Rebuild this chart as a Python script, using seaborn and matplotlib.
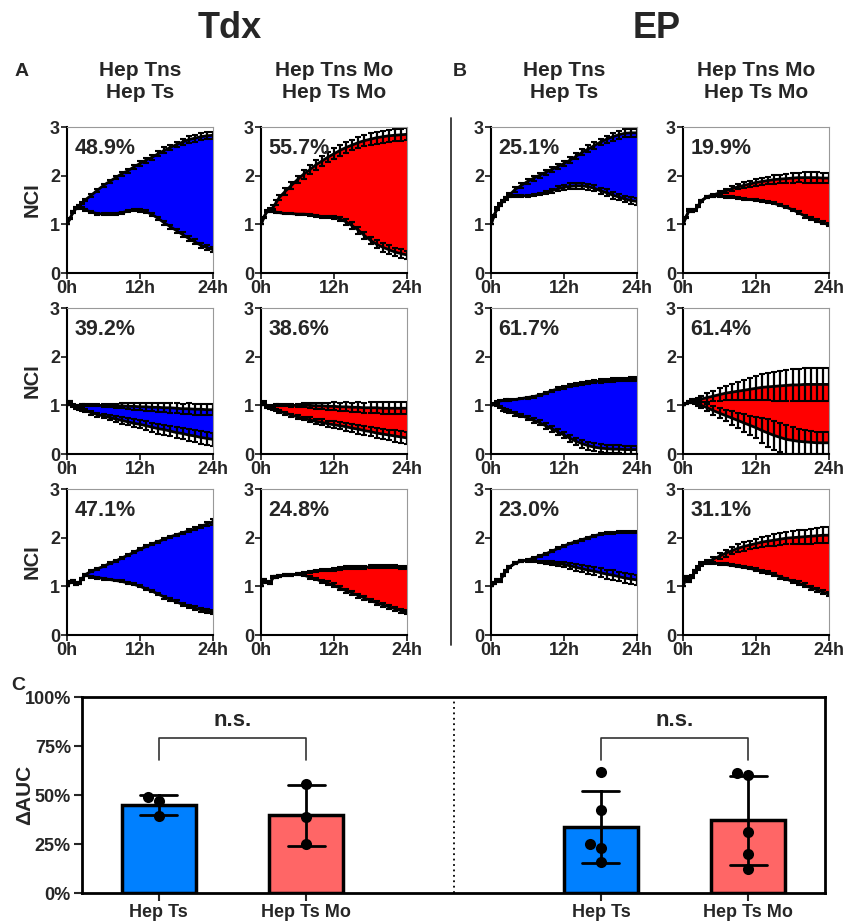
import pandas as pd
import matplotlib
matplotlib.use('Agg')
import matplotlib.pyplot as plt
from matplotlib.lines import Line2D
import seaborn as sns

# time points (h)
hours = [0, 0.5, 1, 1.5, 2, 2.5, 3, 4, 5, 6, 7, 8, 9, 10, 11, 12, 13, 14,
         15, 16, 17, 18, 19, 20, 21, 22, 23, 24]

# ---- Tdx, donor 1 ----
tdx1_ts_up = [1.00, 1.12, 1.25, 1.33, 1.37, 1.44, 1.50,
              1.60, 1.70, 1.80, 1.88, 1.96, 2.04, 2.10, 2.18, 2.25, 2.32, 2.38, 2.45, 2.52, 2.58, 2.64, 2.69, 2.74, 2.77, 2.80, 2.82, 2.83]
tdx1_ts_up_err = [0, 0.01, 0.02, 0.02, 0.02, 0.02, 0.03,
                  0.03, 0.03, 0.03, 0.03, 0.03, 0.04, 0.04, 0.04, 0.05, 0.05, 0.05, 0.05, 0.06, 0.06, 0.06, 0.06, 0.07, 0.07, 0.07, 0.07, 0.07]
tdx1_ts_lo = [1.00, 1.12, 1.25, 1.33, 1.37, 1.33, 1.30,
              1.25, 1.22, 1.21, 1.21, 1.22, 1.24, 1.27, 1.29, 1.29, 1.26, 1.20, 1.12, 1.03, 0.95, 0.87, 0.79, 0.71, 0.64, 0.57, 0.52, 0.48]
tdx1_ts_lo_err = [0, 0.01, 0.02, 0.02, 0.02, 0.02, 0.02,
                  0.02, 0.02, 0.02, 0.02, 0.02, 0.02, 0.02, 0.02, 0.03, 0.03, 0.03, 0.04, 0.04, 0.04, 0.04, 0.05, 0.05, 0.05, 0.05, 0.05, 0.05]
tdx1_mo_up = [1.00, 1.15, 1.27, 1.30, 1.35, 1.45, 1.55,
              1.68, 1.80, 1.92, 2.03, 2.12, 2.22, 2.30, 2.38, 2.45, 2.52, 2.58, 2.63, 2.68, 2.72, 2.75, 2.78, 2.80, 2.82, 2.83, 2.84, 2.85]
tdx1_mo_up_err = [0, 0.01, 0.02, 0.03, 0.04, 0.05, 0.06,
                  0.07, 0.08, 0.08, 0.09, 0.09, 0.10, 0.10, 0.10, 0.11, 0.11, 0.11, 0.11, 0.12, 0.12, 0.12, 0.12, 0.12, 0.12, 0.12, 0.12, 0.12]
tdx1_mo_lo = [1.00, 1.15, 1.27, 1.27, 1.26, 1.25, 1.24,
              1.22, 1.22, 1.21, 1.21, 1.20, 1.18, 1.16, 1.15, 1.14, 1.11, 1.05, 0.97, 0.88, 0.77, 0.67, 0.59, 0.53, 0.48, 0.43, 0.40, 0.37]
tdx1_mo_lo_err = [0, 0.01, 0.01, 0.01, 0.01, 0.01, 0.01,
                  0.01, 0.01, 0.01, 0.01, 0.02, 0.02, 0.02, 0.03, 0.04, 0.05, 0.06, 0.07, 0.07, 0.08, 0.08, 0.08, 0.09, 0.09, 0.09, 0.09, 0.09]

# ---- EP, donor 1 ----
ep1_ts_up = [1.00, 1.18, 1.32, 1.40, 1.48, 1.54, 1.60,
             1.72, 1.80, 1.88, 1.95, 2.01, 2.07, 2.13, 2.19, 2.25, 2.32, 2.40, 2.48, 2.55, 2.62, 2.69, 2.75, 2.80, 2.84, 2.87, 2.88, 2.88]
ep1_ts_up_err = [0, 0.02, 0.03, 0.03, 0.03, 0.03, 0.04,
                 0.05, 0.05, 0.05, 0.05, 0.05, 0.05, 0.05, 0.05, 0.06, 0.06, 0.06, 0.06, 0.07, 0.07, 0.07, 0.07, 0.08, 0.08, 0.08, 0.08, 0.08]
ep1_ts_lo = [1.00, 1.18, 1.32, 1.40, 1.48, 1.54, 1.59,
             1.58, 1.58, 1.59, 1.60, 1.62, 1.65, 1.69, 1.73, 1.76, 1.78, 1.79, 1.79, 1.77, 1.74, 1.69, 1.65, 1.60, 1.56, 1.52, 1.49, 1.47]
ep1_ts_lo_err = [0, 0.01, 0.02, 0.02, 0.02, 0.02, 0.02,
                 0.02, 0.02, 0.02, 0.02, 0.02, 0.03, 0.04, 0.05, 0.05, 0.06, 0.06, 0.06, 0.06, 0.06, 0.06, 0.07, 0.07, 0.07, 0.07, 0.07, 0.07]
ep1_mo_up = [1.00, 1.15, 1.29, 1.27, 1.29, 1.38, 1.48,
             1.57, 1.60, 1.65, 1.69, 1.73, 1.77, 1.80, 1.83, 1.86, 1.88, 1.90, 1.92, 1.93, 1.94, 1.95, 1.96, 1.96, 1.96, 1.96, 1.95, 1.95]
ep1_mo_up_err = [0, 0.01, 0.02, 0.02, 0.02, 0.02, 0.02,
                 0.02, 0.03, 0.03, 0.04, 0.05, 0.05, 0.06, 0.06, 0.07, 0.08, 0.08, 0.09, 0.09, 0.10, 0.10, 0.10, 0.11, 0.11, 0.11, 0.11, 0.11]
ep1_mo_lo = [1.00, 1.15, 1.29, 1.27, 1.29, 1.38, 1.48,
             1.57, 1.59, 1.58, 1.57, 1.56, 1.54, 1.52, 1.51, 1.50, 1.48, 1.46, 1.43, 1.39, 1.35, 1.30, 1.24, 1.17, 1.12, 1.07, 1.03, 0.99]
ep1_mo_lo_err = [0, 0.01, 0.02, 0.02, 0.02, 0.02, 0.02,
                 0.02, 0.02, 0.02, 0.02, 0.02, 0.02, 0.02, 0.02, 0.02, 0.02, 0.02, 0.02, 0.02, 0.02, 0.02, 0.03, 0.03, 0.03, 0.03, 0.03, 0.03]

# ---- Tdx, donor 2 ----
tdx2_ts_up = [1.00, 1.06, 1.00, 0.98, 0.99, 1.00, 1.00,
              1.00, 1.00, 1.00, 1.00, 0.99, 0.99, 0.98, 0.98, 0.97, 0.97, 0.96, 0.96, 0.95, 0.95, 0.94, 0.93, 0.93, 0.92, 0.92, 0.91, 0.91]
tdx2_ts_up_err = [0, 0.02, 0.02, 0.02, 0.02, 0.02, 0.02,
                  0.02, 0.02, 0.03, 0.03, 0.04, 0.05, 0.06, 0.07, 0.07, 0.08, 0.08, 0.09, 0.09, 0.10, 0.10, 0.10, 0.11, 0.11, 0.11, 0.11, 0.11]
tdx2_ts_lo = [1.00, 1.06, 0.98, 0.95, 0.93, 0.91, 0.89,
              0.85, 0.81, 0.78, 0.75, 0.72, 0.69, 0.66, 0.63, 0.61, 0.58, 0.55, 0.52, 0.50, 0.47, 0.44, 0.42, 0.39, 0.37, 0.34, 0.32, 0.30]
tdx2_ts_lo_err = [0, 0.02, 0.02, 0.02, 0.03, 0.03, 0.03,
                  0.04, 0.04, 0.05, 0.05, 0.06, 0.07, 0.07, 0.08, 0.08, 0.09, 0.09, 0.10, 0.10, 0.11, 0.11, 0.12, 0.12, 0.13, 0.13, 0.14, 0.14]
tdx2_mo_up = [1.00, 1.06, 0.99, 0.97, 0.99, 1.00, 1.00,
              1.00, 1.00, 1.00, 1.00, 1.00, 0.99, 0.99, 0.98, 0.98, 0.97, 0.97, 0.96, 0.96, 0.95, 0.95, 0.95, 0.94, 0.94, 0.94, 0.94, 0.94]
tdx2_mo_up_err = [0, 0.02, 0.02, 0.02, 0.02, 0.02, 0.02,
                  0.02, 0.03, 0.03, 0.04, 0.05, 0.06, 0.06, 0.07, 0.08, 0.08, 0.09, 0.09, 0.10, 0.10, 0.11, 0.11, 0.12, 0.12, 0.12, 0.12, 0.12]
tdx2_mo_lo = [1.00, 1.06, 0.97, 0.94, 0.92, 0.90, 0.88,
              0.84, 0.80, 0.76, 0.73, 0.70, 0.67, 0.65, 0.62, 0.60, 0.58, 0.56, 0.53, 0.51, 0.48, 0.46, 0.43, 0.41, 0.39, 0.37, 0.35, 0.33]
tdx2_mo_lo_err = [0, 0.01, 0.02, 0.02, 0.02, 0.02, 0.03,
                  0.03, 0.03, 0.04, 0.04, 0.05, 0.05, 0.06, 0.06, 0.07, 0.07, 0.08, 0.08, 0.09, 0.09, 0.10, 0.10, 0.11, 0.11, 0.12, 0.12, 0.12]

# ---- EP, donor 2 ----
ep2_ts_up = [1.00, 1.04, 1.07, 1.09, 1.10, 1.11, 1.11,
             1.12, 1.14, 1.16, 1.18, 1.21, 1.25, 1.30, 1.34, 1.37, 1.40, 1.42, 1.45, 1.47, 1.49, 1.50, 1.51, 1.52, 1.53, 1.53, 1.54, 1.54]
ep2_ts_up_err = [0, 0.01, 0.01, 0.01, 0.01, 0.02, 0.02,
                 0.02, 0.02, 0.02, 0.02, 0.02, 0.02, 0.02, 0.03, 0.03, 0.03, 0.03, 0.03, 0.03, 0.04, 0.04, 0.04, 0.04, 0.04, 0.04, 0.04, 0.04]
ep2_ts_lo = [1.00, 1.02, 1.00, 0.96, 0.92, 0.90, 0.87,
             0.83, 0.79, 0.74, 0.69, 0.64, 0.58, 0.52, 0.45, 0.39, 0.32, 0.26, 0.21, 0.17, 0.14, 0.12, 0.11, 0.10, 0.10, 0.09, 0.09, 0.09]
ep2_ts_lo_err = [0, 0.01, 0.02, 0.02, 0.03, 0.03, 0.03,
                 0.04, 0.04, 0.05, 0.05, 0.05, 0.06, 0.06, 0.06, 0.07, 0.07, 0.07, 0.08, 0.08, 0.08, 0.08, 0.08, 0.08, 0.08, 0.08, 0.08, 0.08]
ep2_mo_up = [1.00, 1.04, 1.07, 1.09, 1.10, 1.11, 1.13,
             1.16, 1.19, 1.22, 1.25, 1.27, 1.29, 1.31, 1.33, 1.35, 1.37, 1.38, 1.39, 1.40, 1.41, 1.42, 1.42, 1.43, 1.43, 1.43, 1.43, 1.43]
ep2_mo_up_err = [0, 0.01, 0.02, 0.03, 0.04, 0.05, 0.06,
                 0.09, 0.11, 0.13, 0.15, 0.17, 0.19, 0.21, 0.23, 0.25, 0.27, 0.28, 0.30, 0.31, 0.32, 0.33, 0.33, 0.34, 0.34, 0.34, 0.34, 0.34]
ep2_mo_lo = [1.00, 1.04, 1.07, 1.08, 1.06, 1.03, 1.00,
             0.95, 0.89, 0.84, 0.79, 0.74, 0.69, 0.64, 0.59, 0.54, 0.48, 0.43, 0.38, 0.34, 0.30, 0.28, 0.26, 0.25, 0.24, 0.23, 0.23, 0.23]
ep2_mo_lo_err = [0, 0.01, 0.02, 0.03, 0.04, 0.05, 0.06,
                 0.07, 0.09, 0.10, 0.12, 0.14, 0.16, 0.18, 0.20, 0.22, 0.25, 0.28, 0.30, 0.30, 0.29, 0.28, 0.26, 0.25, 0.24, 0.23, 0.22, 0.22]

# ---- Tdx, donor 3 ----
tdx3_ts_up = [1.00, 1.09, 1.11, 1.04, 1.07, 1.16, 1.24,
              1.31, 1.36, 1.41, 1.47, 1.52, 1.58, 1.64, 1.70, 1.76, 1.82, 1.87, 1.92, 1.97, 2.02, 2.06, 2.10, 2.14, 2.18, 2.23, 2.28, 2.33]
tdx3_ts_up_err = [0, 0.02, 0.02, 0.02, 0.02, 0.02, 0.02,
                  0.02, 0.02, 0.02, 0.02, 0.02, 0.02, 0.02, 0.02, 0.02, 0.02, 0.02, 0.02, 0.02, 0.02, 0.02, 0.02, 0.03, 0.03, 0.04, 0.05, 0.06]
tdx3_ts_lo = [1.00, 1.09, 1.11, 1.04, 1.07, 1.16, 1.23,
              1.20, 1.18, 1.16, 1.14, 1.12, 1.10, 1.07, 1.04, 1.00, 0.95, 0.90, 0.84, 0.78, 0.73, 0.68, 0.63, 0.59, 0.55, 0.52, 0.49, 0.47]
tdx3_ts_lo_err = [0, 0.02, 0.02, 0.02, 0.02, 0.02, 0.02,
                  0.02, 0.02, 0.02, 0.02, 0.02, 0.02, 0.02, 0.02, 0.02, 0.02, 0.02, 0.02, 0.03, 0.03, 0.03, 0.03, 0.03, 0.04, 0.04, 0.04, 0.04]
tdx3_mo_up = [1.00, 1.14, 1.09, 1.06, 1.19, 1.20, 1.21,
              1.23, 1.24, 1.25, 1.27, 1.30, 1.32, 1.33, 1.34, 1.35, 1.37, 1.38, 1.38, 1.39, 1.39, 1.40, 1.40, 1.40, 1.40, 1.40, 1.39, 1.39]
tdx3_mo_up_err = [0, 0.02, 0.02, 0.02, 0.02, 0.02, 0.02,
                  0.02, 0.02, 0.02, 0.02, 0.02, 0.02, 0.02, 0.02, 0.03, 0.03, 0.03, 0.03, 0.03, 0.03, 0.03, 0.03, 0.03, 0.03, 0.03, 0.03, 0.03]
tdx3_mo_lo = [1.00, 1.14, 1.09, 1.06, 1.19, 1.20, 1.21,
              1.23, 1.24, 1.25, 1.23, 1.19, 1.15, 1.10, 1.06, 1.02, 0.96, 0.91, 0.86, 0.81, 0.76, 0.71, 0.66, 0.62, 0.58, 0.54, 0.50, 0.47]
tdx3_mo_lo_err = [0, 0.02, 0.02, 0.02, 0.02, 0.02, 0.02,
                  0.02, 0.02, 0.02, 0.02, 0.03, 0.03, 0.03, 0.04, 0.04, 0.04, 0.04, 0.04, 0.04, 0.04, 0.04, 0.04, 0.04, 0.04, 0.04, 0.04, 0.04]

# ---- EP, donor 3 ----
ep3_ts_up = [1.00, 1.06, 1.14, 1.10, 1.24, 1.32, 1.39,
             1.48, 1.52, 1.54, 1.58, 1.62, 1.67, 1.72, 1.78, 1.83, 1.88, 1.92, 1.96, 2.00, 2.04, 2.07, 2.09, 2.10, 2.11, 2.12, 2.12, 2.12]
ep3_ts_up_err = [0, 0.02, 0.02, 0.02, 0.02, 0.02, 0.02,
                 0.02, 0.02, 0.02, 0.02, 0.02, 0.02, 0.02, 0.02, 0.02, 0.02, 0.02, 0.02, 0.02, 0.02, 0.02, 0.02, 0.02, 0.02, 0.02, 0.02, 0.02]
ep3_ts_lo = [1.00, 1.06, 1.14, 1.10, 1.24, 1.32, 1.39,
             1.48, 1.52, 1.53, 1.52, 1.50, 1.49, 1.48, 1.46, 1.45, 1.42, 1.39, 1.36, 1.33, 1.31, 1.28, 1.25, 1.23, 1.20, 1.17, 1.15, 1.13]
ep3_ts_lo_err = [0, 0.02, 0.02, 0.02, 0.02, 0.02, 0.02,
                 0.02, 0.02, 0.02, 0.02, 0.02, 0.03, 0.04, 0.05, 0.05, 0.06, 0.07, 0.07, 0.08, 0.08, 0.09, 0.09, 0.10, 0.10, 0.10, 0.11, 0.11]
ep3_mo_up = [1.00, 1.19, 1.10, 1.20, 1.31, 1.38, 1.45,
             1.50, 1.56, 1.62, 1.68, 1.73, 1.78, 1.82, 1.85, 1.88, 1.91, 1.93, 1.95, 1.97, 1.99, 2.00, 2.01, 2.02, 2.03, 2.04, 2.05, 2.05]
ep3_mo_up_err = [0, 0.02, 0.02, 0.03, 0.03, 0.04, 0.04,
                 0.05, 0.05, 0.06, 0.07, 0.07, 0.08, 0.09, 0.09, 0.10, 0.11, 0.11, 0.12, 0.12, 0.13, 0.13, 0.14, 0.14, 0.15, 0.15, 0.16, 0.16]
ep3_mo_lo = [1.00, 1.19, 1.10, 1.20, 1.31, 1.38, 1.45,
             1.50, 1.48, 1.46, 1.45, 1.43, 1.41, 1.39, 1.37, 1.34, 1.31, 1.28, 1.24, 1.19, 1.15, 1.10, 1.06, 1.02, 0.97, 0.93, 0.88, 0.84]
ep3_mo_lo_err = [0, 0.02, 0.02, 0.02, 0.02, 0.02, 0.02,
                 0.02, 0.02, 0.02, 0.02, 0.02, 0.02, 0.02, 0.02, 0.03, 0.03, 0.03, 0.03, 0.03, 0.03, 0.03, 0.04, 0.04, 0.04, 0.04, 0.04, 0.04]

# percent labels shown in the panels
pct_labels = [['48.9%', '55.7%', '25.1%', '19.9%'],
              ['39.2%', '38.6%', '61.7%', '61.4%'],
              ['47.1%', '24.8%', '23.0%', '31.1%']]

# delta AUC per donor (panel C)
auc_tdx_ts = [48.9, 39.2, 47.1]
auc_tdx_mo = [55.7, 38.6, 24.8]
auc_ep_ts = [25.1, 61.7, 23.0, 42.5, 15.8]
auc_ep_mo = [19.9, 61.4, 31.1, 60.3, 12.4]

BLUE = '#0000ff'
RED = '#ff0000'

sns.set_theme(style='white')
plt.rcParams['font.family'] = ['Liberation Sans', 'DejaVu Sans']
plt.rcParams['font.weight'] = 'bold'
plt.rcParams['axes.labelweight'] = 'bold'
NARROW = ['Liberation Sans Narrow', 'Liberation Sans', 'DejaVu Sans']

W, H = 844, 922
fig = plt.figure(figsize=(W / 100, H / 100), dpi=100)


def box(x0, y0, x1, y1):
    return [x0 / W, 1 - y1 / H, (x1 - x0) / W, (y1 - y0) / H]


col_x = [(67, 213), (261, 407), (491, 637), (683, 829)]
row_y = [(127, 273), (308, 454), (489, 635)]

panels = [
    [(tdx1_ts_up, tdx1_ts_up_err, tdx1_ts_lo, tdx1_ts_lo_err, BLUE),
     (tdx1_mo_up, tdx1_mo_up_err, tdx1_mo_lo, tdx1_mo_lo_err, RED),
     (ep1_ts_up, ep1_ts_up_err, ep1_ts_lo, ep1_ts_lo_err, BLUE),
     (ep1_mo_up, ep1_mo_up_err, ep1_mo_lo, ep1_mo_lo_err, RED)],
    [(tdx2_ts_up, tdx2_ts_up_err, tdx2_ts_lo, tdx2_ts_lo_err, BLUE),
     (tdx2_mo_up, tdx2_mo_up_err, tdx2_mo_lo, tdx2_mo_lo_err, RED),
     (ep2_ts_up, ep2_ts_up_err, ep2_ts_lo, ep2_ts_lo_err, BLUE),
     (ep2_mo_up, ep2_mo_up_err, ep2_mo_lo, ep2_mo_lo_err, RED)],
    [(tdx3_ts_up, tdx3_ts_up_err, tdx3_ts_lo, tdx3_ts_lo_err, BLUE),
     (tdx3_mo_up, tdx3_mo_up_err, tdx3_mo_lo, tdx3_mo_lo_err, RED),
     (ep3_ts_up, ep3_ts_up_err, ep3_ts_lo, ep3_ts_lo_err, BLUE),
     (ep3_mo_up, ep3_mo_up_err, ep3_mo_lo, ep3_mo_lo_err, RED)],
]

for r, (y0, y1) in enumerate(row_y):
    for c, (x0, x1) in enumerate(col_x):
        up, up_err, lo, lo_err, color = panels[r][c]
        ax = fig.add_axes(box(x0, y0, x1, y1))
        ax.fill_between(hours, lo, up, color=color, lw=0, zorder=1)
        for y, e in ((up, up_err), (lo, lo_err)):
            ax.errorbar(hours, y, yerr=e, fmt='none', ecolor='black',
                        elinewidth=1.6, capsize=2.3, capthick=1.5, zorder=2)
            sns.lineplot(x=hours, y=y, color='black', lw=2, ax=ax, zorder=3)
        ax.set_xlim(0, 24)
        ax.set_ylim(0, 3)
        ax.set_xticks([0, 12, 24])
        ax.set_xticklabels(['0h', '12h', '24h'])
        ax.set_yticks([0, 1, 2, 3])
        ax.tick_params(left=True, bottom=True, direction='out', length=4,
                       width=1.3, labelsize=13, pad=1)
        for s in ('left', 'bottom'):
            ax.spines[s].set_color('black')
            ax.spines[s].set_linewidth(1.5)
        for s in ('top', 'right'):
            ax.spines[s].set_color('#999999')
            ax.spines[s].set_linewidth(0.8)
        ax.text(0.05, 0.85, pct_labels[r][c], transform=ax.transAxes,
                fontsize=15.5, fontweight='bold', va='center', zorder=5)
        ax.set_ylabel('NCI' if c == 0 else '', fontsize=14.5, labelpad=6)
        ax.set_xlabel('')

# titles
fig.text(230 / W, 1 - 29 / H, 'Tdx', ha='center', va='center', fontsize=26, weight='bold')
fig.text(657 / W, 1 - 29 / H, 'EP', ha='center', va='center', fontsize=26, weight='bold')
col_titles = ['Hep Tns\nHep Ts', 'Hep Tns Mo\nHep Ts Mo', 'Hep Tns\nHep Ts', 'Hep Tns Mo\nHep Ts Mo']
for (x0, x1), t in zip(col_x, col_titles):
    fig.text((x0 + x1) / 2 / W, 1 - 81 / H, t, ha='center', va='center',
             fontsize=15, weight='bold', linespacing=1.2)
for lbl, (x, y) in {'A': (22, 72), 'B': (460, 72), 'C': (18, 685)}.items():
    fig.text(x / W, 1 - y / H, lbl, ha='center', va='center', fontsize=14, weight='bold')
fig.add_artist(Line2D([451 / W, 451 / W], [1 - 118 / H, 1 - 645 / H], color='#333333', lw=1.3))

# ---- panel C ----
df = pd.concat([
    pd.DataFrame({'group': 'Tdx Hep Ts', 'value': auc_tdx_ts}),
    pd.DataFrame({'group': 'Tdx Hep Ts Mo', 'value': auc_tdx_mo}),
    pd.DataFrame({'group': 'EP Hep Ts', 'value': auc_ep_ts}),
    pd.DataFrame({'group': 'EP Hep Ts Mo', 'value': auc_ep_mo}),
], ignore_index=True)
order = ['Tdx Hep Ts', 'Tdx Hep Ts Mo', 'gap', 'EP Hep Ts', 'EP Hep Ts Mo']
pal = {'Tdx Hep Ts': '#0080ff', 'Tdx Hep Ts Mo': '#ff6666',
       'EP Hep Ts': '#0080ff', 'EP Hep Ts Mo': '#ff6666'}

axc = fig.add_axes(box(82, 697, 825, 893))
sns.barplot(data=df, x='group', y='value', order=order, hue='group', palette=pal,
            saturation=1, errorbar='sd', capsize=0.25, width=0.5, edgecolor='black',
            linewidth=2.5, err_kws={'color': 'black', 'linewidth': 2}, legend=False, ax=axc)
sns.swarmplot(data=df, x='group', y='value', order=order, color='black', size=8,
              ax=axc, zorder=5)
axc.axvline(2, ls=(0, (1, 2)), color='black', lw=1.3)
for a, b in ((0, 1), (3, 4)):
    axc.plot([a, a, b, b], [68, 79, 79, 68], color='#333333', lw=1.2)
    axc.text((a + b) / 2, 88, 'n.s.', ha='center', va='center', fontsize=16, weight='bold')
axc.set_xlim(-0.52, 4.52)
axc.set_ylim(0, 100)
axc.set_yticks([0, 25, 50, 75, 100])
axc.set_yticklabels([f'{v}%' for v in [0, 25, 50, 75, 100]], family=NARROW, fontsize=13, weight='bold')
axc.set_xticks([0, 1, 3, 4])
axc.set_xticklabels(['Hep Ts', 'Hep Ts Mo', 'Hep Ts', 'Hep Ts Mo'], family=NARROW, fontsize=13, weight='bold')
axc.tick_params(left=True, bottom=True, direction='out', length=6, width=1.5, pad=2)
for s in axc.spines.values():
    s.set_color('black')
    s.set_linewidth(2)
axc.set_xlabel('')
axc.set_ylabel('\u0394AUC', fontsize=15)
axc.yaxis.set_label_coords(-0.065, 0.5)

fig.savefig('out.png', dpi=100)
